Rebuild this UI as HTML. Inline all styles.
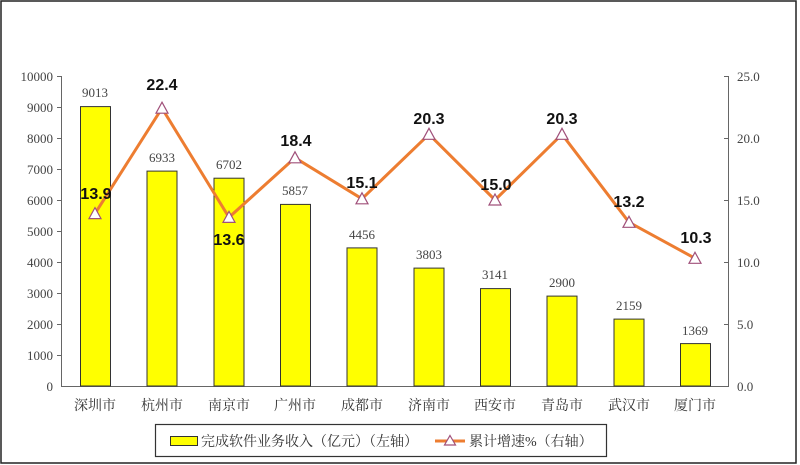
<!DOCTYPE html>
<html><head><meta charset="utf-8"><style>
html,body{margin:0;padding:0;background:#fff;}
svg{display:block;}
.t{font-family:"Liberation Serif","Noto Serif CJK SC",serif;fill:#444;}
.c{font-family:"Liberation Serif","Noto Serif CJK SC",serif;fill:#333;}
.b{font-family:"Liberation Sans",sans-serif;font-weight:bold;fill:#111;font-size:16px;}
</style></head><body>
<svg width="800" height="465" viewBox="0 0 800 465" xmlns="http://www.w3.org/2000/svg">
<rect x="1" y="1" width="795" height="462" fill="#fff" stroke="#222" stroke-width="1.5"/>
<line x1="61.5" y1="76" x2="61.5" y2="386" stroke="#666"/>
<line x1="728.5" y1="76" x2="728.5" y2="386" stroke="#666"/>
<line x1="61" y1="386.5" x2="729" y2="386.5" stroke="#666"/>
<g stroke="#666">
<line x1="57" y1="76.5" x2="61" y2="76.5"/><line x1="57" y1="107.5" x2="61" y2="107.5"/><line x1="57" y1="138.5" x2="61" y2="138.5"/><line x1="57" y1="169.5" x2="61" y2="169.5"/><line x1="57" y1="200.5" x2="61" y2="200.5"/><line x1="57" y1="231.5" x2="61" y2="231.5"/><line x1="57" y1="262.5" x2="61" y2="262.5"/><line x1="57" y1="293.5" x2="61" y2="293.5"/><line x1="57" y1="324.5" x2="61" y2="324.5"/><line x1="57" y1="355.5" x2="61" y2="355.5"/>
<line x1="724" y1="76.5" x2="728" y2="76.5"/><line x1="724" y1="138.5" x2="728" y2="138.5"/><line x1="724" y1="200.5" x2="728" y2="200.5"/><line x1="724" y1="262.5" x2="728" y2="262.5"/><line x1="724" y1="324.5" x2="728" y2="324.5"/>
</g>
<g class="t" font-size="13" text-anchor="end">
<text x="53" y="81">10000</text><text x="53" y="112">9000</text><text x="53" y="143">8000</text><text x="53" y="174">7000</text><text x="53" y="205">6000</text><text x="53" y="236">5000</text><text x="53" y="267">4000</text><text x="53" y="298">3000</text><text x="53" y="329">2000</text><text x="53" y="360">1000</text><text x="53" y="391">0</text>
</g>
<g class="t" font-size="13">
<text x="737" y="81">25.0</text><text x="737" y="143">20.0</text><text x="737" y="205">15.0</text><text x="737" y="267">10.0</text><text x="737" y="329">5.0</text><text x="737" y="391">0.0</text>
</g>
<g fill="#ffff00" stroke="#333" stroke-width="1">
<rect x="80.5" y="106.6" width="30" height="279.4"/>
<rect x="147" y="171.1" width="30" height="214.9"/>
<rect x="214" y="178.2" width="30" height="207.8"/>
<rect x="280.5" y="204.4" width="30" height="181.6"/>
<rect x="347" y="247.9" width="30" height="138.1"/>
<rect x="414" y="268.1" width="30" height="117.9"/>
<rect x="480.5" y="288.6" width="30" height="97.4"/>
<rect x="547" y="296.1" width="30" height="89.9"/>
<rect x="614" y="319.1" width="30" height="66.9"/>
<rect x="680.5" y="343.6" width="30" height="42.4"/>
</g>
<g class="t" font-size="13" text-anchor="middle">
<text x="95" y="97">9013</text><text x="162" y="162">6933</text><text x="229" y="169">6702</text><text x="295" y="195">5857</text><text x="362" y="239">4456</text><text x="429" y="259">3803</text><text x="495" y="279">3141</text><text x="562" y="287">2900</text><text x="629" y="310">2159</text><text x="695" y="335">1369</text>
</g>
<g class="c" font-size="14" text-anchor="middle">
<text x="95" y="410">深圳市</text><text x="162" y="410">杭州市</text><text x="229" y="410">南京市</text><text x="295" y="410">广州市</text><text x="362" y="410">成都市</text><text x="429" y="410">济南市</text><text x="495" y="410">西安市</text><text x="562" y="410">青岛市</text><text x="629" y="410">武汉市</text><text x="695" y="410">厦门市</text>
</g>
<polyline fill="none" stroke="#ed7d31" stroke-width="3" stroke-linejoin="round" points="95,213.6 162,108.2 229,217.4 295,157.8 362,198.8 429,134.3 495,200 562,134.3 629,222.3 695,258.3"/>
<g fill="#fff" stroke="#a0507a" stroke-width="1.2">
<polygon points="95,207.6 101,218.6 89,218.6"/>
<polygon points="162,102.2 168,113.2 156,113.2"/>
<polygon points="229,211.4 235,222.4 223,222.4"/>
<polygon points="295,151.8 301,162.8 289,162.8"/>
<polygon points="362,192.8 368,203.8 356,203.8"/>
<polygon points="429,128.3 435,139.3 423,139.3"/>
<polygon points="495,194 501,205 489,205"/>
<polygon points="562,128.3 568,139.3 556,139.3"/>
<polygon points="629,216.3 635,227.3 623,227.3"/>
<polygon points="695,252.3 701,263.3 689,263.3"/>
</g>
<g class="b" text-anchor="middle">
<text x="96" y="199">13.9</text><text x="162" y="90">22.4</text><text x="229" y="245">13.6</text><text x="296" y="146">18.4</text><text x="362" y="188">15.1</text><text x="429" y="124">20.3</text><text x="496" y="190">15.0</text><text x="562" y="124">20.3</text><text x="629" y="207">13.2</text><text x="696" y="243">10.3</text>
</g>
<rect x="155.5" y="424.5" width="451" height="32" fill="#fff" stroke="#333" stroke-width="1.2"/>
<rect x="170.5" y="436.5" width="27" height="9" fill="#ffff00" stroke="#333"/>
<text x="201" y="446" class="c" font-size="14">完成软件业务收入（亿元）（左轴）</text>
<line x1="435" y1="441" x2="465" y2="441" stroke="#ed7d31" stroke-width="3"/>
<polygon points="450,435.5 455.5,445 444.5,445" fill="#fff" stroke="#a0507a" stroke-width="1.2"/>
<text x="469" y="446" class="c" font-size="14">累计增速%（右轴）</text>
</svg>
</body></html>
